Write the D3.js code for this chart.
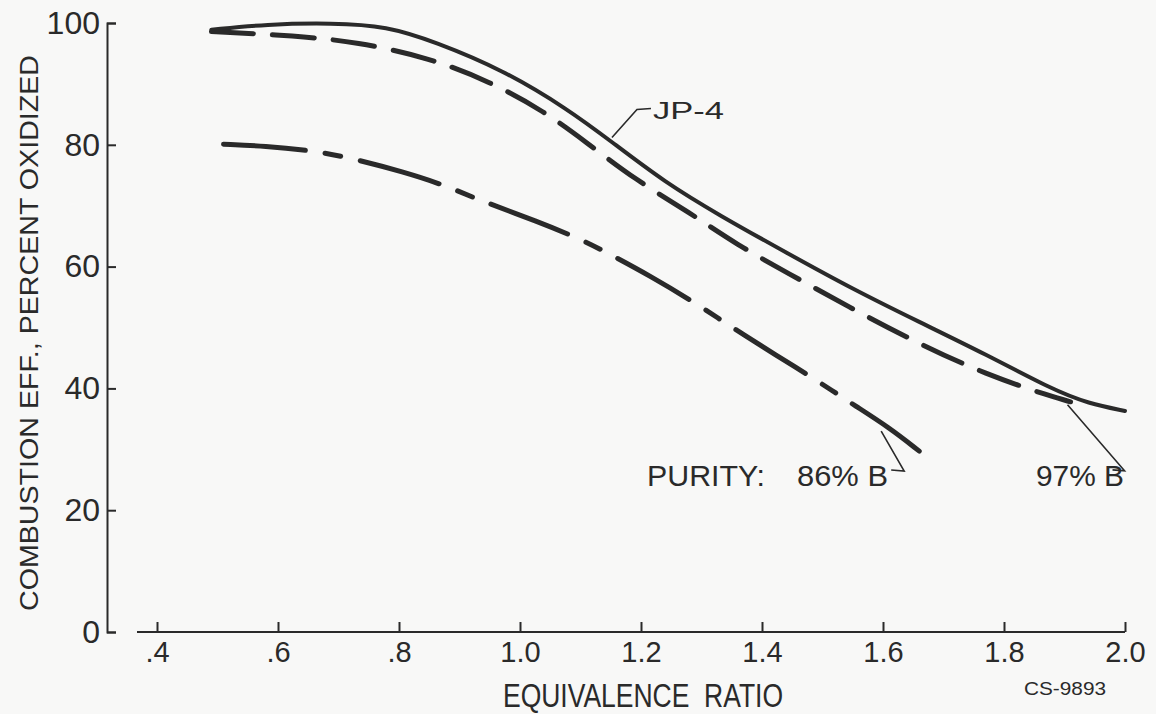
<!DOCTYPE html>
<html>
<head>
<meta charset="utf-8">
<script src="https://cdn.jsdelivr.net/npm/d3@7"></script>
<style>
  html, body { margin: 0; padding: 0; background: #f8f8f7; }
  svg { display: block; }
  text { font-family: "Liberation Sans", Arial, sans-serif; fill: #2a2a2a; }
</style>
</head>
<body>
<svg id="chart" width="1156" height="714"></svg>
<script>
// ---------- data ----------
const xTicks = [0.4, 0.6, 0.8, 1.0, 1.2, 1.4, 1.6, 1.8, 2.0];
const xTickLabels = [".4", ".6", ".8", "1.0", "1.2", "1.4", "1.6", "1.8", "2.0"];
const yTicks = [0, 20, 40, 60, 80, 100];
const yTickLabels = ["0", "20", "40", "60", "80", "100"];

// JP-4 (solid)
const jp4Ratio = [0.49, 0.58, 0.69, 0.78, 0.86, 0.97, 1.08, 1.15, 1.24, 1.33, 1.44, 1.55, 1.66, 1.77, 1.88, 1.94, 2.00];
const jp4Eff   = [98.9, 99.8, 100.0, 99.5, 96.9, 92.4, 85.8, 80.6, 73.8, 68.4, 62.3, 56.3, 50.9, 45.6, 39.8, 37.5, 36.3];

// Purity 97% B (dashed)
const b97Ratio = [0.49, 0.63, 0.73, 0.85, 0.95, 1.04, 1.11, 1.19, 1.28, 1.36, 1.44, 1.55, 1.66, 1.77, 1.88, 1.91];
const b97Eff   = [98.6, 97.9, 96.9, 94.3, 90.4, 85.5, 80.4, 74.3, 68.9, 63.5, 59.1, 53.0, 47.3, 42.3, 38.6, 37.8];

// Purity 86% B (long dash - short dash)
const b86Ratio = [0.51, 0.58, 0.65, 0.71, 0.81, 0.88, 0.93, 1.03, 1.10, 1.14, 1.22, 1.28, 1.33, 1.36, 1.46, 1.52, 1.55, 1.61, 1.66];
const b86Eff   = [80.1, 79.8, 79.1, 78.1, 75.5, 73.2, 71.0, 67.4, 64.5, 62.5, 58.2, 54.6, 51.4, 49.4, 43.2, 39.4, 37.4, 33.6, 29.7];

const yTitle = "COMBUSTION EFF., PERCENT OXIDIZED";
const xTitle = "EQUIVALENCE  RATIO";
const codeLabel = "CS-9893";

// ---------- drawing ----------
const ink = "#2a2a2a";
const svg = d3.select("#chart");

const x = d3.scaleLinear().domain([0.4, 2.0]).range([157, 1125]);
const y = d3.scaleLinear().domain([0, 100]).range([632, 23]);

// Y axis
const yAxis = d3.axisLeft(y)
  .tickValues(yTicks)
  .tickFormat((d, i) => yTickLabels[i])
  .tickSizeInner(-9)
  .tickSizeOuter(-9)
  .tickPadding(7);
const gy = svg.append("g").attr("transform", "translate(107,0)").call(yAxis);
gy.select(".domain").attr("stroke", ink).attr("stroke-width", 2);
gy.selectAll(".tick line").attr("stroke", ink).attr("stroke-width", 2);
gy.selectAll(".tick text")
  .attr("font-size", 32)
  .attr("font-family", "Liberation Sans, Arial, sans-serif")
  .attr("fill", ink);

// X axis
const xAxis = d3.axisBottom(x)
  .tickValues(xTicks)
  .tickFormat((d, i) => xTickLabels[i])
  .tickSizeInner(-10)
  .tickSizeOuter(0)
  .tickPadding(9);
const gx = svg.append("g").attr("transform", "translate(0,632)").call(xAxis);
gx.select(".domain").remove();
gx.append("line")
  .attr("x1", x.range()[0] - 20).attr("x2", x.range()[1])
  .attr("y1", 0).attr("y2", 0)
  .attr("stroke", ink).attr("stroke-width", 2);
gx.selectAll(".tick line").attr("stroke", ink).attr("stroke-width", 2);
gx.selectAll(".tick text")
  .attr("font-size", 29)
  .attr("font-family", "Liberation Sans, Arial, sans-serif")
  .attr("fill", ink);

// Lines
const line = d3.line().x(d => x(d[0])).y(d => y(d[1])).curve(d3.curveBasis);
const zip = (a, b) => a.map((v, i) => [v, b[i]]);

svg.append("path").datum(zip(jp4Ratio, jp4Eff))
  .attr("d", line).attr("fill", "none")
  .attr("stroke", ink).attr("stroke-width", 4).attr("stroke-linecap", "round");

svg.append("path").datum(zip(b97Ratio, b97Eff))
  .attr("d", line).attr("fill", "none")
  .attr("stroke", ink).attr("stroke-width", 5).attr("stroke-linecap", "round")
  .attr("stroke-dasharray", "42,19");

svg.append("path").datum(zip(b86Ratio, b86Eff))
  .attr("d", line).attr("fill", "none")
  .attr("stroke", ink).attr("stroke-width", 5).attr("stroke-linecap", "round")
  .attr("stroke-dasharray", "82,20,16,20");

// Axis titles
svg.append("text")
  .attr("transform", "translate(38," + 333 + ") rotate(-90)")
  .attr("text-anchor", "middle")
  .attr("font-size", 26)
  .attr("textLength", 556)
  .attr("lengthAdjust", "spacingAndGlyphs")
  .text(yTitle);

svg.append("text")
  .attr("x", 503).attr("y", 707)
  .attr("font-size", 33)
  .attr("textLength", 280)
  .attr("lengthAdjust", "spacingAndGlyphs")
  .style("white-space", "pre")
  .text(xTitle);

svg.append("text")
  .attr("x", 1024).attr("y", 695)
  .attr("font-family", "Liberation Mono, DejaVu Sans Mono, monospace")
  .attr("font-size", 19)
  .attr("textLength", 82)
  .attr("lengthAdjust", "spacingAndGlyphs")
  .text(codeLabel);

// Annotations (anchored to data coordinates)
const leader = d3.line();
function lbl(txt, px, py, size, len) {
  svg.append("text").attr("x", px).attr("y", py)
    .attr("font-size", size)
    .attr("textLength", len).attr("lengthAdjust", "spacingAndGlyphs")
    .text(txt);
}

// JP-4
const jpA = [x(1.152), y(81.2)];
svg.append("path")
  .attr("d", leader([jpA, [jpA[0] + 25, jpA[1] - 28], [jpA[0] + 39, jpA[1] - 29]]))
  .attr("fill", "none").attr("stroke", ink).attr("stroke-width", 1.6);
lbl("JP-4", jpA[0] + 41, jpA[1] - 18, 24, 71);

// 86% B
const b86A = [x(1.597), y(33.0)];
svg.append("path")
  .attr("d", leader([[b86A[0] + 10, b86A[1] + 39], [b86A[0] + 23, b86A[1] + 40], b86A]))
  .attr("fill", "none").attr("stroke", ink).attr("stroke-width", 1.6);
lbl("PURITY:", 647, 486, 29, 118);
lbl("86% B", 797, 486, 29, 91);

// 97% B
const b97A = [x(1.905), y(37.3)];
svg.append("path")
  .attr("d", leader([[b97A[0] + 45, b97A[1] + 65], [b97A[0] + 57, b97A[1] + 66], b97A]))
  .attr("fill", "none").attr("stroke", ink).attr("stroke-width", 1.6);
lbl("97% B", 1036, 486, 29, 88);
</script>
</body>
</html>
